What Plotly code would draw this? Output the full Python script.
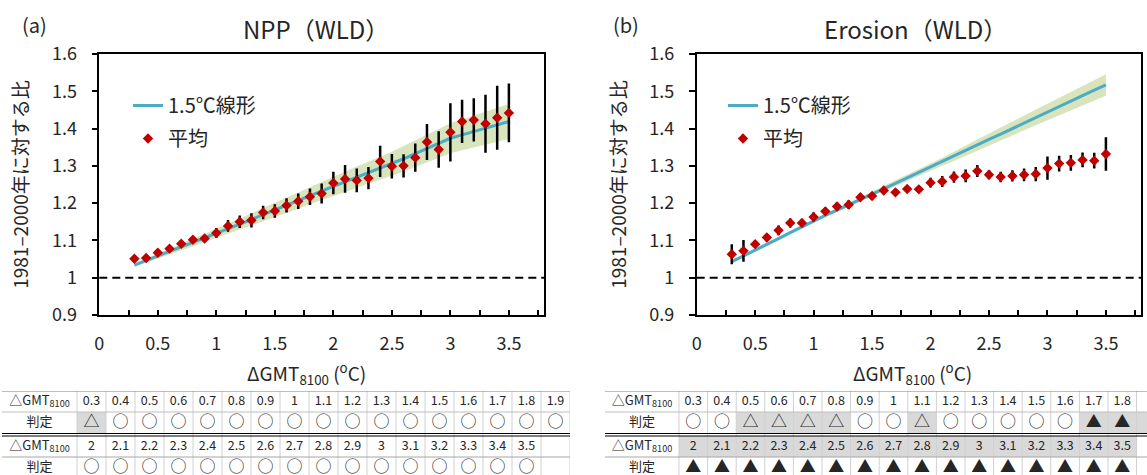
import plotly.graph_objects as go

# ΔGMT8100 (°C)
gmt = [0.3, 0.4, 0.5, 0.6, 0.7, 0.8, 0.9, 1.0, 1.1, 1.2, 1.3, 1.4, 1.5, 1.6, 1.7, 1.8, 1.9,
       2.0, 2.1, 2.2, 2.3, 2.4, 2.5, 2.6, 2.7, 2.8, 2.9, 3.0, 3.1, 3.2, 3.3, 3.4, 3.5]

# (a) NPP
npp_mean = [1.051, 1.053, 1.067, 1.078, 1.091, 1.102, 1.105, 1.120, 1.139, 1.150, 1.154,
            1.175, 1.179, 1.194, 1.205, 1.217, 1.226, 1.254, 1.265, 1.261, 1.267, 1.312,
            1.299, 1.300, 1.322, 1.364, 1.344, 1.390, 1.419, 1.423, 1.413, 1.429, 1.442]
npp_err = [0.004, 0.004, 0.005, 0.006, 0.007, 0.008, 0.009, 0.013, 0.016, 0.017, 0.019,
           0.018, 0.018, 0.019, 0.021, 0.022, 0.027, 0.030, 0.037, 0.032, 0.030, 0.042,
           0.033, 0.031, 0.038, 0.048, 0.049, 0.078, 0.058, 0.058, 0.078, 0.086, 0.079]
npp_line = [1.034, 1.046, 1.058, 1.070, 1.082, 1.094, 1.106, 1.118, 1.131, 1.144, 1.156,
            1.169, 1.182, 1.195, 1.207, 1.220, 1.233, 1.245, 1.257, 1.269, 1.281, 1.293,
            1.305, 1.319, 1.333, 1.347, 1.361, 1.374, 1.383, 1.392, 1.401, 1.410, 1.419]
npp_band = [0.004, 0.006, 0.007, 0.008, 0.009, 0.010, 0.011, 0.012, 0.014, 0.015, 0.017,
            0.018, 0.019, 0.021, 0.022, 0.023, 0.025, 0.026, 0.027, 0.029, 0.030, 0.031,
            0.033, 0.034, 0.036, 0.037, 0.038, 0.040, 0.041, 0.043, 0.044, 0.046, 0.047]

# (b) Erosion
ero_mean = [1.063, 1.072, 1.090, 1.108, 1.127, 1.147, 1.147, 1.163, 1.178, 1.191, 1.196,
            1.216, 1.219, 1.234, 1.229, 1.238, 1.237, 1.255, 1.258, 1.270, 1.273, 1.286,
            1.276, 1.270, 1.273, 1.276, 1.278, 1.294, 1.306, 1.308, 1.316, 1.314, 1.332]
ero_err = [0.027, 0.029, 0.010, 0.010, 0.013, 0.012, 0.010, 0.012, 0.010, 0.010, 0.012,
           0.010, 0.008, 0.010, 0.008, 0.008, 0.008, 0.013, 0.015, 0.015, 0.017, 0.016,
           0.012, 0.014, 0.015, 0.017, 0.019, 0.031, 0.021, 0.021, 0.020, 0.021, 0.045]
ero_line = [1.043, 1.058, 1.074, 1.090, 1.105, 1.121, 1.137, 1.152, 1.167, 1.181, 1.196,
            1.210, 1.224, 1.238, 1.253, 1.267, 1.282, 1.296, 1.311, 1.326, 1.341, 1.356,
            1.371, 1.385, 1.400, 1.415, 1.430, 1.444, 1.459, 1.474, 1.488, 1.503, 1.517]
ero_band = [0.004, 0.004, 0.004, 0.004, 0.004, 0.004, 0.004, 0.004, 0.004, 0.005, 0.005,
            0.005, 0.005, 0.006, 0.007, 0.008, 0.009, 0.010, 0.011, 0.013, 0.014, 0.015,
            0.016, 0.017, 0.019, 0.020, 0.021, 0.022, 0.024, 0.025, 0.026, 0.028, 0.029]

baseline = 1.0

# tables below the charts
tab_gmt_1 = ["0.3", "0.4", "0.5", "0.6", "0.7", "0.8", "0.9", "1", "1.1", "1.2", "1.3",
             "1.4", "1.5", "1.6", "1.7", "1.8", "1.9"]
tab_gmt_2 = ["2", "2.1", "2.2", "2.3", "2.4", "2.5", "2.6", "2.7", "2.8", "2.9", "3",
             "3.1", "3.2", "3.3", "3.4", "3.5", " "]
npp_judge_1 = ["△", "○", "○", "○", "○", "○", "○", "○", "○", "○", "○", "○", "○", "○", "○", "○", "○"]
npp_judge_2 = ["○", "○", "○", "○", "○", "○", "○", "○", "○", "○", "○", "○", "○", "○", "○", "○", " "]
ero_judge_1 = ["○", "○", "△", "△", "△", "△", "○", "○", "△", "○", "○", "○", "○", "○", "▲", "▲", "▲"]
ero_judge_2 = ["▲", "▲", "▲", "▲", "▲", "▲", "▲", "▲", "▲", "▲", "▲", "▲", "▲", "▲", "▲", "▲", " "]

FONT = "Noto Sans CJK JP"
W, H = 1147, 475
BLUE = "#4bacc6"
RED = "#c00000"
GREEN = "#d8e4bc"
TXT = "#262626"


def px(xp):
    return xp / W


def py(yp):
    return 1 - yp / H


fig = go.Figure()

panels = [
    dict(n="", mean=npp_mean, err=npp_err, line=npp_line, band=npp_band,
         dom=[px(99.3), px(544)], legend="legend"),
    dict(n="2", mean=ero_mean, err=ero_err, line=ero_line, band=ero_band,
         dom=[px(696.7), px(1141)], legend="legend2"),
]

for i, p in enumerate(panels):
    xa, ya = "x" + p["n"], "y" + p["n"]
    lower = [a - b for a, b in zip(p["line"], p["band"])]
    upper = [a + b for a, b in zip(p["line"], p["band"])]
    fig.add_trace(go.Scatter(x=gmt, y=lower, xaxis=xa, yaxis=ya, mode="lines",
                             line=dict(width=0, color=GREEN), showlegend=False, hoverinfo="skip"))
    fig.add_trace(go.Scatter(x=gmt, y=upper, xaxis=xa, yaxis=ya, mode="lines", fill="tonexty",
                             fillcolor=GREEN, line=dict(width=0, color=GREEN),
                             showlegend=False, hoverinfo="skip"))
    fig.add_trace(go.Scatter(x=gmt, y=p["line"], xaxis=xa, yaxis=ya, mode="lines",
                             line=dict(color=BLUE, width=3), name="1.5℃線形",
                             legend=p["legend"], legendgroup=f"l{i}"))
    fig.add_trace(go.Scatter(x=gmt, y=p["mean"], xaxis=xa, yaxis=ya, mode="markers",
                             marker=dict(symbol="diamond", size=8, color=RED),
                             error_y=dict(type="data", array=p["err"], color="black",
                                          thickness=2.5, width=0),
                             name="平均", legend=p["legend"], legendgroup=f"m{i}"))
    fig.add_shape(type="line", xref=xa + " domain", yref=ya, x0=0, x1=1, y0=baseline, y1=baseline,
                  line=dict(color="black", width=2, dash="8px,5px"))

    axis_x = dict(domain=p["dom"], anchor=ya, range=[0, 3.8], tick0=0, dtick=0.5,
                  ticks="inside", ticklen=5, tickwidth=1.5, tickcolor="black",
                  minor=dict(dtick=0.25, ticks="inside", ticklen=5, tickwidth=1.5, tickcolor="black"),
                  showline=True, linecolor="black", linewidth=1.5, mirror=True,
                  showgrid=False, zeroline=False, ticklabelstandoff=12, automargin=False,
                  tickfont=dict(family=FONT, size=18, color=TXT))
    axis_y = dict(domain=[py(315), py(54)], anchor=xa, range=[0.9, 1.6], dtick=0.1,
                  ticks="outside", ticklen=6, tickwidth=1.5, tickcolor="black",
                  showline=True, linecolor="black", linewidth=1.5, mirror=True,
                  showgrid=False, zeroline=False, ticklabelstandoff=11, automargin=False,
                  tickfont=dict(family=FONT, size=18, color=TXT),
                  title=dict(text="1981–2000年に対する比", standoff=18,
                             font=dict(family=FONT, size=19, color=TXT)))
    fig.update_layout({"xaxis" + p["n"]: axis_x, "yaxis" + p["n"]: axis_y})

# titles, x-axis titles and panel letters
for txt, xc in [("NPP（WLD）", 316), ("Erosion（WLD）", 915)]:
    fig.add_annotation(text=txt, x=px(xc), y=py(29), xref="paper", yref="paper",
                       xanchor="center", yanchor="middle", showarrow=False,
                       font=dict(family=FONT, size=24, color=TXT))
for xc in [306, 912]:
    fig.add_annotation(text="ΔGMT<sub>8100</sub> (<sup>o</sup>C)", x=px(xc), y=py(373),
                       xref="paper", yref="paper", xanchor="center", yanchor="middle",
                       showarrow=False, font=dict(family=FONT, size=19, color=TXT))
for txt, xc in [("(a)", 34), ("(b)", 626)]:
    fig.add_annotation(text=txt, x=px(xc), y=py(25), xref="paper", yref="paper",
                       xanchor="center", yanchor="middle", showarrow=False,
                       font=dict(family=FONT, size=20, color=TXT))

# tables
row_top = 391
tables = [
    dict(xn="3", judge=[npp_judge_1, npp_judge_2], dom=[px(2), px(570)], rng=[-2.586, 17]),
    dict(xn="4", judge=[ero_judge_1, ero_judge_2], dom=[px(605), 1.0], rng=[-2.587, 16.364]),
]
row_mid = [10.5, 31.5, 55.5, 76.5]
for t in tables:
    xa, ya = "x" + t["xn"], "y" + t["xn"]
    fig.update_layout({
        "xaxis" + t["xn"]: dict(domain=t["dom"], range=t["rng"], visible=False, anchor=ya,
                                automargin=False),
        "yaxis" + t["xn"]: dict(domain=[0, py(row_top)], range=[84, 0], visible=False, anchor=xa,
                                automargin=False),
    })
    cols = list(range(len(tab_gmt_1)))
    centers = [c + 0.5 for c in cols]
    # grey cells
    for y0, judges in zip([21, 45], t["judge"]):
        for c, s in zip(cols, judges):
            if s in ("△", "▲"):
                fig.add_shape(type="rect", xref=xa, yref=ya, x0=c, x1=c + 1, y0=y0, y1=y0 + 21,
                              fillcolor="#d9d9d9", line=dict(width=0), layer="below")
    # vertical separators
    for c in cols + [len(cols)]:
        fig.add_shape(type="line", xref=xa, yref=ya, x0=c, x1=c, y0=0, y1=87,
                      line=dict(color="#d0d0d0", width=1))
    # horizontal rules
    for yv, col in [(0, "#7f7f7f"), (21, "#bfbfbf"), (42.5, "black"), (45, "black"), (66, "#a6a6a6")]:
        fig.add_shape(type="line", xref=xa, yref=ya, x0=t["rng"][0], x1=len(cols), y0=yv, y1=yv,
                      line=dict(color=col, width=1))
    # text
    hx = t["rng"][0] / 2
    fig.add_trace(go.Scatter(x=[hx, hx, hx, hx], y=row_mid, xaxis=xa, yaxis=ya, mode="text",
                             text=["△GMT<sub>8100</sub>", "判定", "△GMT<sub>8100</sub>", "判定"],
                             textfont=dict(family=FONT, size=13, color=TXT),
                             showlegend=False, hoverinfo="skip", cliponaxis=False))
    for yv, labels in [(row_mid[0], tab_gmt_1), (row_mid[2], tab_gmt_2)]:
        fig.add_trace(go.Scatter(x=centers, y=[yv] * len(centers), xaxis=xa, yaxis=ya,
                                 mode="text", text=labels,
                                 textfont=dict(family=FONT, size=12.5, color=TXT),
                                 showlegend=False, hoverinfo="skip", cliponaxis=False))
    for yv, judges in [(row_mid[1], t["judge"][0]), (row_mid[3], t["judge"][1])]:
        fig.add_trace(go.Scatter(x=centers, y=[yv] * len(centers), xaxis=xa, yaxis=ya,
                                 mode="text", text=judges,
                                 textfont=dict(family=FONT, size=16, color=TXT),
                                 showlegend=False, hoverinfo="skip", cliponaxis=False))

legend_style = dict(font=dict(family=FONT, size=20, color=TXT), bgcolor="rgba(0,0,0,0)",
                    xanchor="left", yanchor="top", tracegroupgap=4, traceorder="grouped",
                    itemwidth=30)
fig.update_layout(
    width=W, height=H, margin=dict(l=0, r=0, t=0, b=0, autoexpand=False),
    paper_bgcolor="white", plot_bgcolor="white",
    legend=dict(legend_style, x=px(128), y=py(86)),
    legend2=dict(legend_style, x=px(723), y=py(86)),
)

fig.write_html("out.html", config={"displayModeBar": False},
               post_script="document.body.style.margin='0';")
